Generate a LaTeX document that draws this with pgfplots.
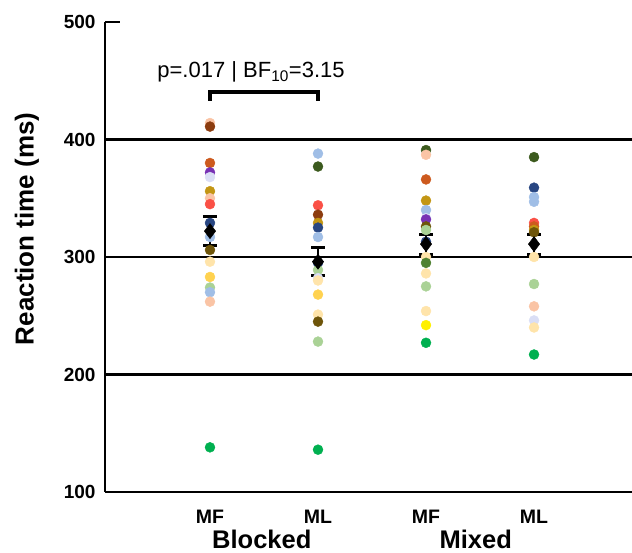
\documentclass[border=0pt]{standalone}
\usepackage{pgfplots}
\pgfplotsset{compat=1.18}
\usepackage{pgfplotstable}
\usepackage{fontspec}
\setmainfont{Liberation Sans}
\usetikzlibrary{calc}

\definecolor{cpeach}{RGB}{250,196,165}
\definecolor{cbrown}{RGB}{140,60,15}
\definecolor{corange}{RGB}{205,90,30}
\definecolor{cpurple}{RGB}{120,50,180}
\definecolor{clav}{RGB}{218,222,245}
\definecolor{cgold}{RGB}{195,150,20}
\definecolor{cred}{RGB}{250,80,70}
\definecolor{cdblue}{RGB}{40,70,130}
\definecolor{clblue}{RGB}{160,190,230}
\definecolor{colive}{RGB}{110,85,10}
\definecolor{clyel}{RGB}{255,228,170}
\definecolor{cgyel}{RGB}{255,210,80}
\definecolor{clgreen}{RGB}{170,210,150}
\definecolor{cdgreen}{RGB}{60,90,30}
\definecolor{cmgreen}{RGB}{80,130,50}
\definecolor{cgreen}{RGB}{0,176,80}
\definecolor{cyel}{RGB}{255,240,0}

% individual participants: x = condition, y = RT (ms), c = colour class
\pgfplotstableread{
x y c
1 414 pk
1 411 br
1 380 or
1 372 pu
1 368 lv
1 356 go
1 350 pk
1 345 re
1 329 db
1 317 lb
1 306 ol
1 296 ly
1 283 gy
1 274 lg
1 270 lb
1 262 pk
1 138 gr
2 388 lb
2 377 dg
2 344 re
2 336 br
2 329 go
2 325 db
2 317 lb
2 295 db
2 289 lg
2 282 lv
2 280 ly
2 268 gy
2 251 ly
2 245 ol
2 228 lg
2 136 gr
3 391 dg
3 387 pk
3 366 or
3 348 go
3 340 lb
3 333 lv
3 332 pu
3 326 ol
3 323 lg
3 313 db
3 300 ly
3 295 mg
3 286 ly
3 275 lg
3 254 ly
3 242 ye
3 227 gr
4 385 dg
4 359 db
4 351 lb
4 347 lb
4 329 re
4 326 or
4 323 go
4 321 ol
4 300 ly
4 277 lg
4 258 pk
4 246 lv
4 240 ly
4 217 gr
}\subjects

\pgfplotstableread{
x y err
1 322 12.5
2 296 12
3 311 8.5
4 311 8.5
}\means

\begin{document}
\begin{tikzpicture}
\begin{axis}[
    scale only axis,
    width=527pt, height=470pt,
    xmin=0.028, xmax=4.907,
    ymin=100, ymax=500,
    axis x line*=bottom,
    axis y line*=left,
    axis line style={line width=2pt, -},
    clip=false,
    xtick={1,2,3,4},
    xticklabels={MF,ML,MF,ML},
    x tick label style={font=\fontsize{19.5}{19.5}\selectfont\bfseries, yshift=-15pt},
    xtick style={draw=none},
    extra x ticks={2.5},
    extra x tick labels={},
    extra x tick style={tick align=outside, major tick length=13pt,
        tick style={draw=black, line width=2.5pt}},
    ytick={100,200,300,400,500},
    y tick label style={font=\fontsize{19}{19}\selectfont\bfseries, xshift=-6pt},
    /pgf/number format/assume math mode=true,
    ytick style={draw=black, line width=2pt},
    tick align=inside,
    major tick length=15pt,
    extra y ticks={200,300,400},
    extra y tick labels={},
    extra y tick style={grid=major, major grid style={black, line width=2.2pt}},
    ylabel={\fontsize{26}{26}\selectfont\bfseries Reaction time (ms)},
    ylabel style={at={(axis description cs:-0.148,0.56)}, anchor=center},
    scatter/classes={
        pk={mark=*,fill=cpeach,draw=cpeach},
        br={mark=*,fill=cbrown,draw=cbrown},
        or={mark=*,fill=corange,draw=corange},
        pu={mark=*,fill=cpurple,draw=cpurple},
        lv={mark=*,fill=clav,draw=clav},
        go={mark=*,fill=cgold,draw=cgold},
        re={mark=*,fill=cred,draw=cred},
        db={mark=*,fill=cdblue,draw=cdblue},
        lb={mark=*,fill=clblue,draw=clblue},
        ol={mark=*,fill=colive,draw=colive},
        ly={mark=*,fill=clyel,draw=clyel},
        gy={mark=*,fill=cgyel,draw=cgyel},
        lg={mark=*,fill=clgreen,draw=clgreen},
        dg={mark=*,fill=cdgreen,draw=cdgreen},
        mg={mark=*,fill=cmgreen,draw=cmgreen},
        gr={mark=*,fill=cgreen,draw=cgreen},
        ye={mark=*,fill=cyel,draw=cyel}},
]
\addplot[scatter, only marks, mark size=5pt, scatter src=explicit symbolic]
    table[x=x, y=y, meta=c] {\subjects};

\addplot[only marks, mark=diamond*, mark size=7.5pt, black, line width=2.5pt,
    mark options={line width=0.5pt},
    error bars/.cd, y dir=both, y explicit,
    error bar style={line width=2.5pt, black},
    error mark options={rotate=90, mark size=7pt, line width=3pt, black}]
    table[x=x, y=y, y error=err] {\means};

% significance bracket
\draw[line width=4pt] (axis cs:1,433) -- (axis cs:1,440.5) -- (axis cs:2,440.5) -- (axis cs:2,433);
\node[anchor=base, font=\fontsize{22}{22}\selectfont] at (axis cs:1.38,452.5)
    {p=.017 | BF\textsubscript{10}=3.15};

% group labels
\node[anchor=base, inner sep=0pt, font=\fontsize{25.5}{25.5}\selectfont\bfseries] at (axis cs:1.48,52) {Blocked};
\node[anchor=base, inner sep=0pt, font=\fontsize{25.5}{25.5}\selectfont\bfseries] at (axis cs:3.46,52) {Mixed};
\end{axis}
\pgfresetboundingbox
\path[use as bounding box] ($(current axis.south west)+(-105pt,-61pt)$)
    rectangle ($(current axis.north east)+(0pt,22pt)$);
\end{tikzpicture}
\end{document}
